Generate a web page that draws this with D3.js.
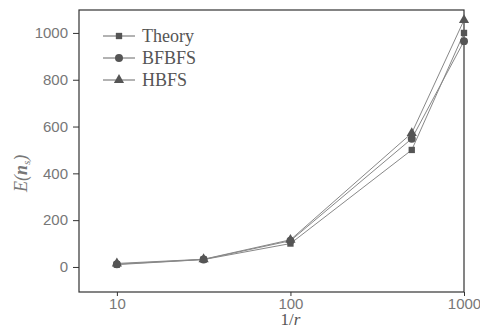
<!DOCTYPE html>
<html>
<head>
<meta charset="utf-8">
<script src="https://cdn.jsdelivr.net/npm/d3@7"></script>
<style>
  body { margin: 0; background: #fff; }
  svg { display: block; }
</style>
</head>
<body>
<div id="chart"></div>
<script>
const xValues = [10, 31.6, 100, 500, 1000];
const theory = [10, 31.6, 100, 500, 1000];
const bfbfs = [12, 32, 112, 548, 965];
const hbfs = [15, 33, 116, 572, 1055];
const seriesNames = ["Theory", "BFBFS", "HBFS"];
const xTicks = [10, 100, 1000];
const yTicks = [0, 200, 400, 600, 800, 1000];

const width = 480, height = 331;
const margin = { top: 10, right: 16, bottom: 39, left: 79 };
const w = width - margin.left - margin.right;
const h = height - margin.top - margin.bottom;

const svg = d3.select("#chart").append("svg")
    .attr("width", width)
    .attr("height", height);

const g = svg.append("g")
    .attr("transform", `translate(${margin.left},${margin.top})`);

const x = d3.scaleLog().domain([6.05, 1000]).range([0, w]);
const y = d3.scaleLinear().domain([-107, 1098]).range([h, 0]);

const axisColor = "#333";
const textColor = "#777";

// frame
g.append("rect")
    .attr("width", w).attr("height", h)
    .attr("fill", "none").attr("stroke", axisColor).attr("stroke-width", 1.2);

const xAxis = g.append("g")
    .attr("transform", `translate(0,${h})`)
    .call(d3.axisBottom(x).tickValues(xTicks).tickFormat(d3.format("d")).tickSize(4).tickPadding(2));
const yAxis = g.append("g")
    .call(d3.axisLeft(y).tickValues(yTicks).tickFormat(d3.format("d")).tickSize(6).tickPadding(5));

[xAxis, yAxis].forEach(a => {
    a.select(".domain").remove();
    a.selectAll("line").attr("stroke", axisColor);
    a.selectAll("text")
        .attr("fill", textColor)
        .style("font-family", "Liberation Sans, Arial, sans-serif")
        .style("font-size", "15px");
});

const series = [
    { name: seriesNames[0], values: theory, symbol: d3.symbolSquare, size: 40 },
    { name: seriesNames[1], values: bfbfs, symbol: d3.symbolCircle, size: 50 },
    { name: seriesNames[2], values: hbfs, symbol: d3.symbolTriangle, size: 45 }
];

const line = d3.line()
    .x((d, i) => x(xValues[i]))
    .y(d => y(d));

series.forEach(s => {
    g.append("path")
        .datum(s.values)
        .attr("fill", "none")
        .attr("stroke", "#888")
        .attr("stroke-width", 1)
        .attr("d", line);
});

series.forEach(s => {
    g.selectAll(null)
        .data(s.values)
        .enter()
        .append("path")
        .attr("d", d3.symbol().type(s.symbol).size(s.size))
        .attr("transform", (d, i) => `translate(${x(xValues[i])},${y(d)})`)
        .attr("fill", "#555");
});

// legend
const legend = g.append("g").attr("transform", "translate(24,26)");
series.forEach((s, i) => {
    const row = legend.append("g").attr("transform", `translate(0,${i * 22})`);
    row.append("line")
        .attr("x1", 0).attr("x2", 32)
        .attr("stroke", "#666").attr("stroke-width", 1);
    row.append("path")
        .attr("d", d3.symbol().type(s.symbol).size(s.size))
        .attr("transform", "translate(16,0)")
        .attr("fill", "#555");
    row.append("text")
        .attr("x", 39).attr("y", 6)
        .attr("fill", "#555")
        .style("font-family", "Liberation Serif, Times New Roman, serif")
        .style("font-size", "18px")
        .text(s.name);
});

// axis labels
svg.append("text")
    .attr("transform", `translate(27,${margin.top + y(400)}) rotate(-90)`)
    .attr("text-anchor", "middle")
    .attr("fill", textColor)
    .style("font-family", "Liberation Serif, Times New Roman, serif")
    .style("font-size", "18px")
    .style("font-style", "italic")
    .html('E(<tspan font-weight="bold">n</tspan><tspan font-size="11px" dy="3">s</tspan><tspan dy="-3">)</tspan>');

svg.append("text")
    .attr("x", margin.left + x(100))
    .attr("y", 325)
    .attr("text-anchor", "middle")
    .attr("fill", "#555")
    .style("font-family", "Liberation Serif, Times New Roman, serif")
    .style("font-size", "17px")
    .html('1/<tspan font-style="italic">r</tspan>');
</script>
</body>
</html>
